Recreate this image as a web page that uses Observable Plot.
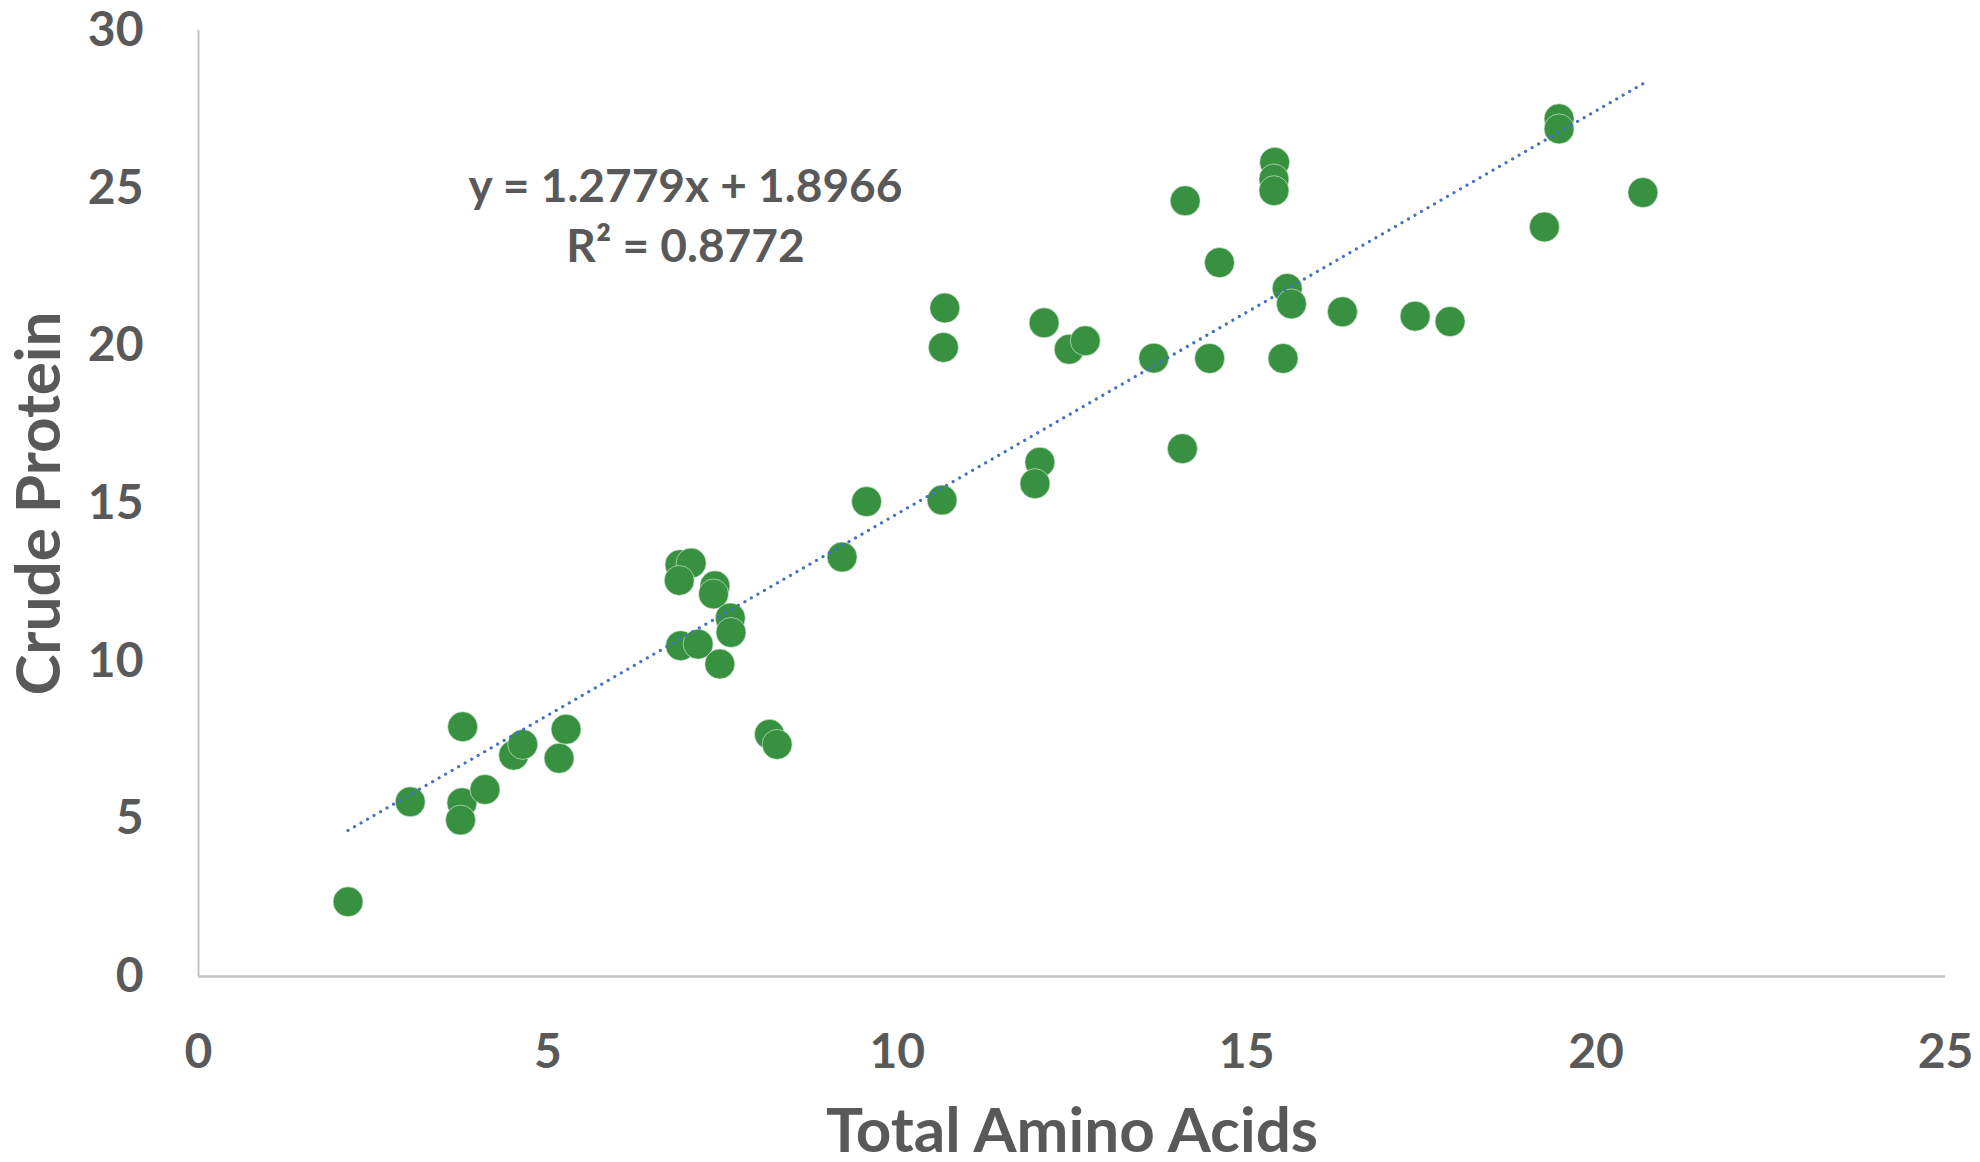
<!DOCTYPE html>
<html>
<head>
<meta charset="utf-8">
<script src="https://cdn.jsdelivr.net/npm/d3@7"></script>
<script src="https://cdn.jsdelivr.net/npm/@observablehq/plot@0.6"></script>
<style>
  html, body { margin: 0; padding: 0; background: #ffffff; }
  #chart { width: 1980px; height: 1162px; }
</style>
</head>
<body>
<div id="chart"></div>
<script>
// Data
const totalAminoAcids = [
  2.14, 3.03, 3.78, 3.77, 3.75, 4.10, 4.51, 4.64, 5.26, 5.16,
  6.89, 7.05, 6.88, 6.90, 7.15, 7.39, 7.37, 7.61, 7.62, 7.46,
  8.17, 8.28, 9.21, 9.56, 10.64, 10.68, 10.66, 12.10, 12.04, 11.97,
  12.46, 12.69, 13.67, 14.12, 14.08, 14.47, 14.61, 15.40, 15.39, 15.39,
  15.58, 15.64, 15.52, 16.37, 17.41, 17.91, 19.26, 19.47, 19.47, 20.67
];
const crudeProtein = [
  2.37, 5.54, 7.92, 5.51, 4.96, 5.93, 7.02, 7.36, 7.84, 6.92,
  13.06, 13.11, 12.56, 10.49, 10.54, 12.39, 12.13, 11.37, 10.91, 9.91,
  7.68, 7.36, 13.30, 15.06, 15.11, 21.20, 19.95, 20.73, 16.31, 15.63,
  19.89, 20.16, 19.61, 24.60, 16.74, 19.60, 22.64, 25.82, 25.29, 24.92,
  21.82, 21.33, 19.60, 21.08, 20.94, 20.77, 23.77, 27.20, 26.88, 24.86
];
const xTicks = [0, 5, 10, 15, 20, 25];
const yTicks = [0, 5, 10, 15, 20, 25, 30];
const slope = 1.2779;
const intercept = 1.8966;
const equationText = "y = 1.2779x + 1.8966\nR² = 0.8772";
const xTitle = "Total Amino Acids";
const yTitle = "Crude Protein";

const points = totalAminoAcids.map((x, i) => ({x, y: crudeProtein[i]}));
const [xmin, xmax] = d3.extent(totalAminoAcids);
const trend = [xmin, xmax].map(x => ({x, y: slope * x + intercept}));

const chart = Plot.plot({
  width: 1980,
  height: 1162,
  marginLeft: 198,
  marginRight: 35,
  marginTop: 30,
  marginBottom: 186,
  x: {domain: [0, 25], ticks: xTicks},
  y: {domain: [0, 30], ticks: yTicks},
  style: {
    fontFamily: "Lato, 'Open Sans', sans-serif",
    fontSize: "48px",
    fontWeight: "bold",
    color: "#595959",
    background: "#ffffff",
    overflow: "visible"
  },
  marks: [
    Plot.ruleY([0], {stroke: "#c4c4c4", strokeWidth: 2.5}),
    Plot.ruleX([0], {stroke: "#c4c4c4", strokeWidth: 2}),
    Plot.axisX(xTicks, {tickSize: 0, tickPadding: 57, label: null}),
    Plot.axisY(yTicks, {tickSize: 0, tickPadding: 55, label: null}),
    Plot.dot(points, {x: "x", y: "y", r: 15, fill: "#379141", stroke: "#e8f2e8", strokeWidth: 0.6}),
    Plot.line(trend, {x: "x", y: "y", stroke: "#4472c4", strokeWidth: 3.2,
      strokeDasharray: "0.01,7.5", strokeLinecap: "round"}),
    Plot.text([equationText], {text: d => d, frameAnchor: "top-left", dx: 487, dy: 129,
      lineAnchor: "top", lineHeight: 60 / 46, fontSize: 46, textAnchor: "middle", fill: "#595959"}),
    Plot.text([xTitle], {text: d => d, frameAnchor: "bottom", textAnchor: "middle", dy: 156,
      lineAnchor: "middle", fontSize: 62, fill: "#595959"}),
    Plot.text([yTitle], {text: d => d, frameAnchor: "left", textAnchor: "middle", dx: -158, rotate: -90,
      lineAnchor: "middle", fontSize: 62, fill: "#595959"})
  ]
});
document.getElementById("chart").appendChild(chart);
</script>
</body>
</html>
